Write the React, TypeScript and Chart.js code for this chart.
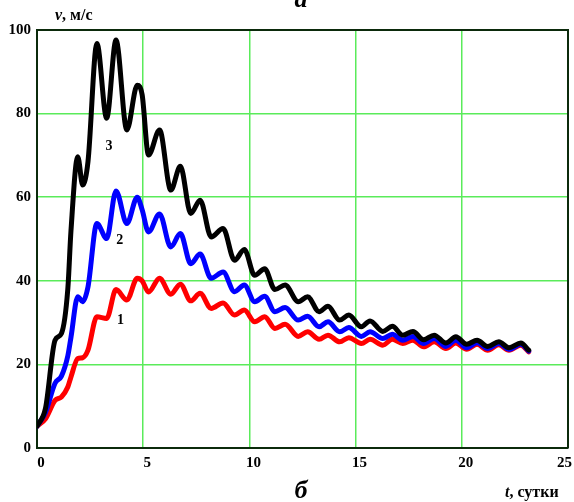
import React, { useEffect, useRef } from "react";
import { Chart, registerables } from "chart.js";

Chart.register(...registerables);

const times = [0, 0.4, 0.85, 1.15, 1.45, 1.6, 1.92, 2.15, 2.4, 2.82, 3.28, 3.72, 4.23, 4.72, 4.95, 5.25, 5.77, 6.3, 6.75, 7.24, 7.68, 8.2, 8.76, 9.3, 9.76, 10.25, 10.72, 11.2, 11.68, 12.3, 12.74, 13.28, 13.7, 14.25, 14.68, 15.27, 15.68, 16.28, 16.73, 17.22, 17.7, 18.2, 18.7, 19.25, 19.72, 20.23, 20.72, 21.22, 21.74, 22.22, 22.78, 23.15];

const curve3 = [5.2, 9.5, 25.8, 27.4, 38, 52, 69.7, 62.9, 68.5, 96.8, 78.9, 97.6, 76.1, 86.8, 84.5, 70.1, 76.1, 61.7, 67.4, 56.1, 59.3, 50.5, 52.5, 44.9, 47.5, 41.3, 42.9, 37.9, 39, 35, 36.2, 32.6, 33.9, 30.6, 31.8, 29, 30.4, 27.9, 29.1, 27, 27.9, 25.9, 27, 25.1, 26.6, 24.8, 25.8, 24.3, 25.4, 24, 25.1, 23.4];

const curve2 = [5.2, 8.5, 15.5, 17.2, 22, 26.5, 36.2, 35, 38.5, 53.7, 50.1, 61.5, 53.7, 60, 57, 51.7, 56, 48.1, 51.3, 44.1, 46.4, 40.6, 42.1, 37.4, 39, 35, 36.3, 32.6, 33.6, 30.6, 31.5, 29, 30.2, 27.8, 28.8, 26.7, 27.8, 26.2, 27.2, 25.8, 26.7, 25, 26.2, 24.3, 25.8, 24, 25.2, 23.8, 25, 23.6, 24.8, 23.2];

const curve1 = [5.2, 7, 11.4, 12.2, 14.6, 17, 21.4, 21.6, 23.4, 31.4, 31, 37.9, 35.4, 40.6, 40, 37.3, 40.6, 36.8, 39.2, 35.2, 37, 33.4, 34.7, 31.8, 33, 30.2, 31.4, 28.6, 29.6, 26.7, 27.8, 26, 27, 25.4, 26.4, 25, 26, 24.6, 26, 25, 25.8, 24.2, 25.4, 23.8, 25.1, 23.6, 24.8, 23.4, 24.7, 23.4, 24.6, 23];

const curveNames = ["1", "2", "3"];
const curveLabelT = [3.93, 3.9, 3.39];
const curveLabelV = [30.6, 49.7, 72.2];

const xTicks = [0, 5, 10, 15, 20, 25];
const yTicks = [0, 20, 40, 60, 80, 100];

const FRAME = "#0b2a0b";
const GRID = "rgb(90,235,90)";
const SERIF = "'Liberation Serif', 'Times New Roman', serif";

export default function App() {
  const ref = useRef<HTMLCanvasElement | null>(null);

  useEffect(() => {
    document.body.style.margin = "0";
    const canvas = ref.current;
    if (!canvas) return;

    const toPts = (vals: number[]) => vals.map((v, i) => ({ x: times[i], y: v }));

    const overlay = {
      id: "overlay",
      afterDraw(chart: any) {
        const { ctx, chartArea, scales } = chart;
        ctx.save();
        ctx.strokeStyle = FRAME;
        ctx.lineWidth = 2;
        ctx.beginPath();
        ctx.moveTo(chartArea.left, chartArea.top);
        ctx.lineTo(chartArea.right, chartArea.top);
        ctx.lineTo(chartArea.right, chartArea.bottom);
        ctx.stroke();

        ctx.fillStyle = "#000";
        // x tick labels
        ctx.textBaseline = "middle";
        ctx.textAlign = "center";
        ctx.font = `bold 15px ${SERIF}`;
        xTicks.forEach((t) => {
          const s = String(t);
          const hw = ctx.measureText(s).width / 2;
          let cx = scales.x.getPixelForValue(t) + 4;
          if (cx + hw > 572) cx = 572 - hw;
          ctx.fillText(s, cx, chartArea.bottom + 15);
        });

        ctx.font = `bold 14px ${SERIF}`;
        curveNames.forEach((n, i) => {
          ctx.fillText(n, scales.x.getPixelForValue(curveLabelT[i]), scales.y.getPixelForValue(curveLabelV[i]));
        });

        ctx.textAlign = "left";
        ctx.textBaseline = "alphabetic";
        ctx.font = `italic bold 16px ${SERIF}`;
        ctx.fillText("v", 55, 20);
        let w = ctx.measureText("v").width;
        ctx.font = `bold 16px ${SERIF}`;
        ctx.fillText(", м/с", 55 + w, 20);

        ctx.font = `italic bold 16px ${SERIF}`;
        ctx.fillText("t", 505, 497);
        w = ctx.measureText("t").width;
        ctx.font = `bold 16px ${SERIF}`;
        ctx.fillText(", сутки", 505 + w, 497);

        ctx.textAlign = "center";
        ctx.font = `italic bold 26px ${SERIF}`;
        ctx.fillText("б", 301, 498);
        ctx.fillText("а", 301, 7);
        ctx.restore();
      },
    };

    const chart = new Chart(canvas, {
      type: "line",
      data: {
        datasets: [
          { label: "3", data: toPts(curve3), borderColor: "#000000", order: 0 },
          { label: "2", data: toPts(curve2), borderColor: "#0000ff", order: 1 },
          { label: "1", data: toPts(curve1), borderColor: "#ff0000", order: 2 },
        ],
      },
      options: {
        responsive: false,
        animation: false,
        devicePixelRatio: 1,
        layout: { padding: { left: 0, top: 30, right: 6, bottom: 0 } },
        elements: {
          line: {
            borderWidth: 5,
            cubicInterpolationMode: "monotone",
            borderJoinStyle: "round",
            borderCapStyle: "round",
            fill: false,
          },
          point: { radius: 0, hoverRadius: 0 },
        },
        plugins: { legend: { display: false }, tooltip: { enabled: false }, title: { display: false } },
        scales: {
          x: {
            type: "linear",
            min: 0,
            max: 25,
            afterBuildTicks: (s: any) => {
              s.ticks = xTicks.map((v) => ({ value: v }));
            },
            afterFit: (s: any) => {
              s.height = 54;
              s.paddingLeft = 0;
              s.paddingRight = 0;
            },
            ticks: { display: false },
            grid: {
              drawTicks: false,
              color: (c: any) => (c.tick && (c.tick.value === 0 || c.tick.value === 25) ? "rgba(0,0,0,0)" : GRID),
              lineWidth: 1.5,
            },
            border: { display: true, color: FRAME, width: 2 },
          },
          y: {
            type: "linear",
            min: 0,
            max: 100,
            afterBuildTicks: (s: any) => {
              s.ticks = yTicks.map((v) => ({ value: v }));
            },
            afterFit: (s: any) => {
              s.width = 37;
              s.paddingTop = 0;
              s.paddingBottom = 0;
            },
            ticks: {
              color: "#000",
              font: { family: SERIF, size: 15, weight: "bold" },
              padding: 6,
            },
            grid: {
              drawTicks: false,
              color: (c: any) => (c.tick && (c.tick.value === 0 || c.tick.value === 100) ? "rgba(0,0,0,0)" : GRID),
              lineWidth: 1.5,
            },
            border: { display: true, color: FRAME, width: 2 },
          },
        },
      },
      plugins: [overlay],
    } as any);

    return () => chart.destroy();
  }, []);

  return (
    <div style={{ width: 574, height: 502, background: "#fff" }}>
      <canvas ref={ref} width={574} height={502} style={{ display: "block" }} />
    </div>
  );
}
